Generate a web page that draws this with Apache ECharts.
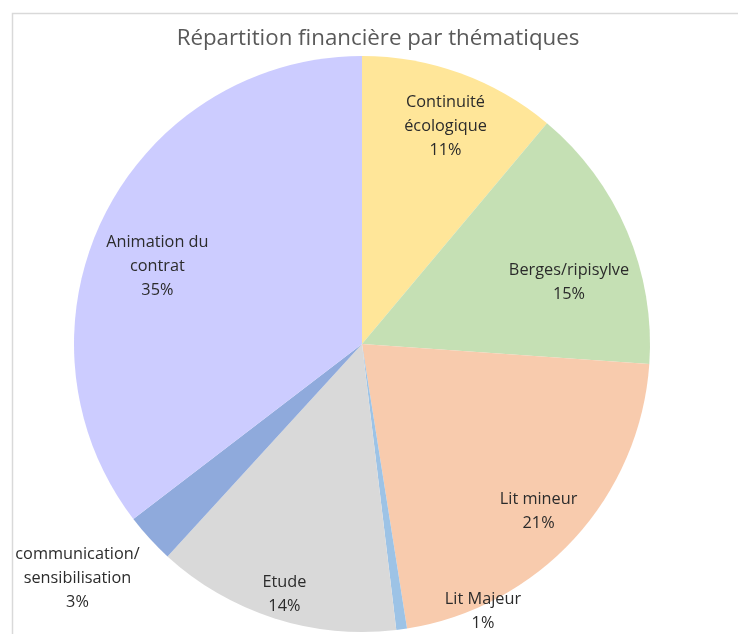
<!DOCTYPE html>
<html>
<head>
<meta charset="utf-8">
<script src="https://cdn.jsdelivr.net/npm/echarts@6/dist/echarts.min.js"></script>
<style>html,body{margin:0;padding:0;background:#fff}#c{width:738px;height:634px}</style>
</head>
<body>
<div id="c"></div>
<script>
// Data (percent shares)
var titleText = 'Répartition financière par thématiques';
var categories = ['Continuité\nécologique', 'Berges/ripisylve', 'Lit mineur', 'Lit Majeur', 'Etude', 'communication/\nsensibilisation', 'Animation du\ncontrat'];
var shares = [11.1, 15.0, 21.4, 0.6, 13.7, 2.8, 35.4];

// Styles
var colors = ['#FFE699', '#C5E0B4', '#F8CBAD', '#9DC3E6', '#D9D9D9', '#8FAADC', '#CCCCFF'];
var CX = 362, CY = 344, R = 288;
// label placement: [angle offset from slice middle (deg), fraction of radius]
var labelPolar = [[1, 0.81], [6.4, 0.75], [1, 0.845], [-16.4, 1.02], [-0.6, 0.91], [3.0, 1.28], [-5.5, 0.76]];

var total = shares.reduce(function (a, b) { return a + b; }, 0);
var mids = [];
var acc = 0;
shares.forEach(function (v) { mids.push((acc + v / 2) / total * 360); acc += v; });

var chart = echarts.init(document.getElementById('c'), null, { renderer: 'canvas' });
chart.setOption({
  animation: false,
  backgroundColor: '#ffffff',
  title: {
    text: titleText,
    left: 373, top: 23, textAlign: 'center',
    textStyle: { fontFamily: 'Open Sans', fontSize: 22.3, fontWeight: 'normal', color: '#595959' }
  },
  graphic: [{
    type: 'rect', left: 10, top: 11, silent: true,
    shape: { width: 740, height: 640 },
    style: { fill: 'none', stroke: '#D9D9D9', lineWidth: 1.5 }
  }],
  series: [{
    type: 'pie',
    center: [CX, CY],
    radius: R,
    startAngle: 90,
    clockwise: true,
    percentPrecision: 0,
    avoidLabelOverlap: false,
    emphasis: { disabled: true },
    label: {
      show: true, position: 'inside',
      formatter: '{b}\n{d}%',
      fontFamily: 'Open Sans', fontSize: 16.3, lineHeight: 24,
      color: '#2b2b2b', align: 'center'
    },
    labelLine: { show: false },
    labelLayout: function (p) {
      var i = p.dataIndex;
      var a = (mids[i] + labelPolar[i][0]) * Math.PI / 180;
      var r = R * labelPolar[i][1];
      return { x: CX + r * Math.sin(a), y: CY - r * Math.cos(a), align: 'center', verticalAlign: 'middle' };
    },
    data: categories.map(function (c, i) {
      return { name: c, value: shares[i], itemStyle: { color: colors[i] } };
    })
  }]
});
</script>
</body>
</html>
